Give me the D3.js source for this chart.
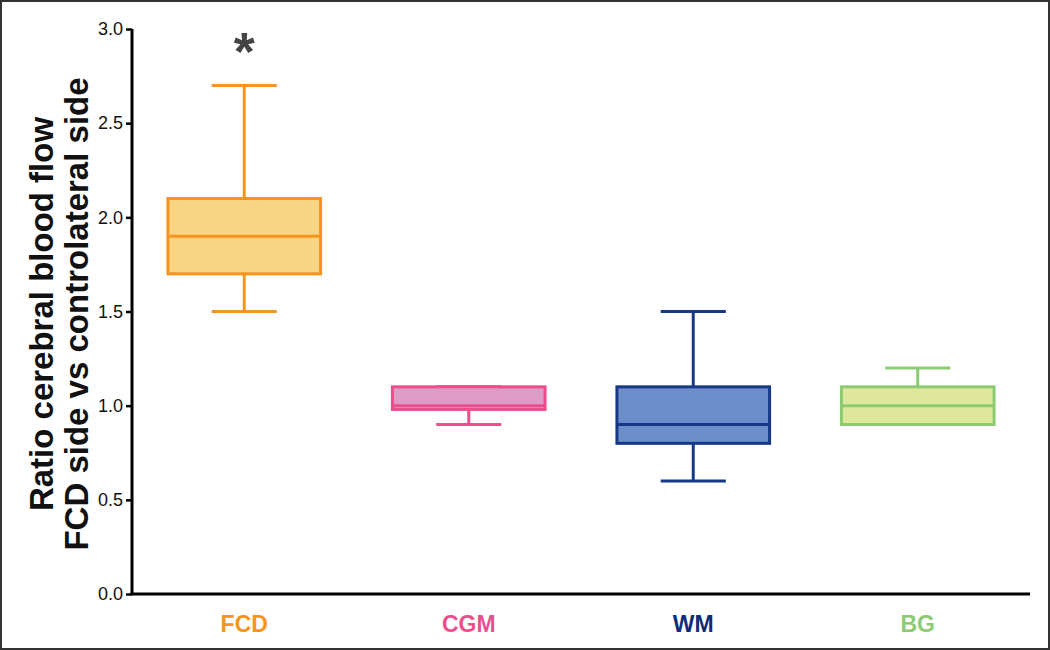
<!DOCTYPE html>
<html><head><meta charset="utf-8">
<script src="https://cdn.jsdelivr.net/npm/d3@7"></script>
<style>html,body{margin:0;padding:0;background:#fff;}svg{display:block;}</style>
</head><body>
<script>
const categories = ["FCD", "CGM", "WM", "BG"];
const whiskerLow  = [1.5, 0.9, 0.6, 0.9];
const q1          = [1.7, 0.98, 0.8, 0.9];
const median      = [1.9, 1.0, 0.9, 1.0];
const q3          = [2.1, 1.1, 1.1, 1.1];
const whiskerHigh = [2.7, 1.1, 1.5, 1.2];
const strokeColors = ["#F7941D", "#EE4D8C", "#163886", "#8DCB72"];
const fillColors   = ["#F8D584", "#DC9CC5", "#6C8FCB", "#DDE89C"];
const labelColors  = ["#F7941D", "#EE4D8C", "#0F2B7A", "#8DCB72"];
const yTicks = [0, 0.5, 1.0, 1.5, 2.0, 2.5, 3.0];
const significance = ["*", "", "", ""];

const W = 1050, H = 650;
const FONT = "Liberation Sans, Arial, Helvetica, sans-serif";
const svg = d3.select("body").append("svg").attr("width", W).attr("height", H);
svg.append("rect").attr("x", 1).attr("y", 1).attr("width", W - 2).attr("height", H - 2)
  .attr("fill", "#fff").attr("stroke", "#333").attr("stroke-width", 2);

const x0 = 132, x1 = 1030, yTop = 29, yBot = 594;
const x = d3.scaleBand().domain(categories).range([x0, x1]).paddingInner(0.32).paddingOuter(0.16);
const y = d3.scaleLinear().domain([0, 3]).range([yBot, yTop]);
const cx = c => x(c) + x.bandwidth() / 2;
const capHalf = x.step() * 0.145;

// axes
const yAxis = d3.axisLeft(y).tickValues(yTicks).tickFormat(d3.format(".1f")).tickSize(6).tickPadding(3);
const gy = svg.append("g").attr("transform", `translate(${x0},0)`).call(yAxis)
  .attr("font-family", FONT).attr("font-size", 18);
gy.select(".domain").attr("stroke", "#000").attr("stroke-width", 3).attr("d", `M0,${yTop}V${yBot}`);
gy.selectAll(".tick line").attr("stroke", "#000").attr("stroke-width", 2.5);
gy.selectAll(".tick text").style("font-size", "18px").style("font-family", FONT).attr("fill", "#111");

const xAxis = d3.axisBottom(x).tickSize(0).tickPadding(22);
const gx = svg.append("g").attr("transform", `translate(0,${yBot})`).call(xAxis)
  .attr("font-family", FONT).attr("font-size", 23);
gx.select(".domain").attr("stroke", "#000").attr("stroke-width", 3).attr("d", `M${x0 - 1.5},0H${x1}`);
gx.selectAll(".tick text").style("font-size", "23px").style("font-family", FONT)
  .style("font-weight", "bold")
  .attr("fill", (d, i) => labelColors[i]);

// y title
const title = svg.append("text").attr("transform", `translate(0,314) rotate(-90)`)
  .attr("text-anchor", "middle").style("font-family", FONT)
  .style("font-size", "33px").style("font-weight", "bold").attr("fill", "#111");
title.append("tspan").attr("x", 0).attr("y", 53).text("Ratio cerebral blood flow");
title.append("tspan").attr("x", 0).attr("y", 88).text("FCD side vs controlateral side");

// boxes
const g = svg.append("g");
categories.forEach((c, i) => {
  const col = strokeColors[i];
  const gg = g.append("g").attr("stroke", col).attr("stroke-width", 3).attr("fill", "none");
  gg.append("line").attr("x1", cx(c)).attr("x2", cx(c)).attr("y1", y(q3[i])).attr("y2", y(whiskerHigh[i]));
  gg.append("line").attr("x1", cx(c)).attr("x2", cx(c)).attr("y1", y(q1[i])).attr("y2", y(whiskerLow[i]));
  gg.append("line").attr("x1", cx(c) - capHalf).attr("x2", cx(c) + capHalf).attr("y1", y(whiskerHigh[i])).attr("y2", y(whiskerHigh[i]));
  gg.append("line").attr("x1", cx(c) - capHalf).attr("x2", cx(c) + capHalf).attr("y1", y(whiskerLow[i])).attr("y2", y(whiskerLow[i]));
  gg.append("rect").attr("x", x(c)).attr("width", x.bandwidth())
    .attr("y", y(q3[i])).attr("height", y(q1[i]) - y(q3[i]))
    .attr("fill", fillColors[i]);
  gg.append("line").attr("x1", x(c)).attr("x2", x(c) + x.bandwidth()).attr("y1", y(median[i])).attr("y2", y(median[i]));
  if (significance[i]) {
    svg.append("text").attr("x", cx(c)).attr("y", y(whiskerHigh[i]) - 16)
      .attr("text-anchor", "middle").style("font-family", FONT)
      .style("font-size", "54px").style("font-weight", "bold").attr("fill", "#444").text(significance[i]);
  }
});
</script>
</body></html>
